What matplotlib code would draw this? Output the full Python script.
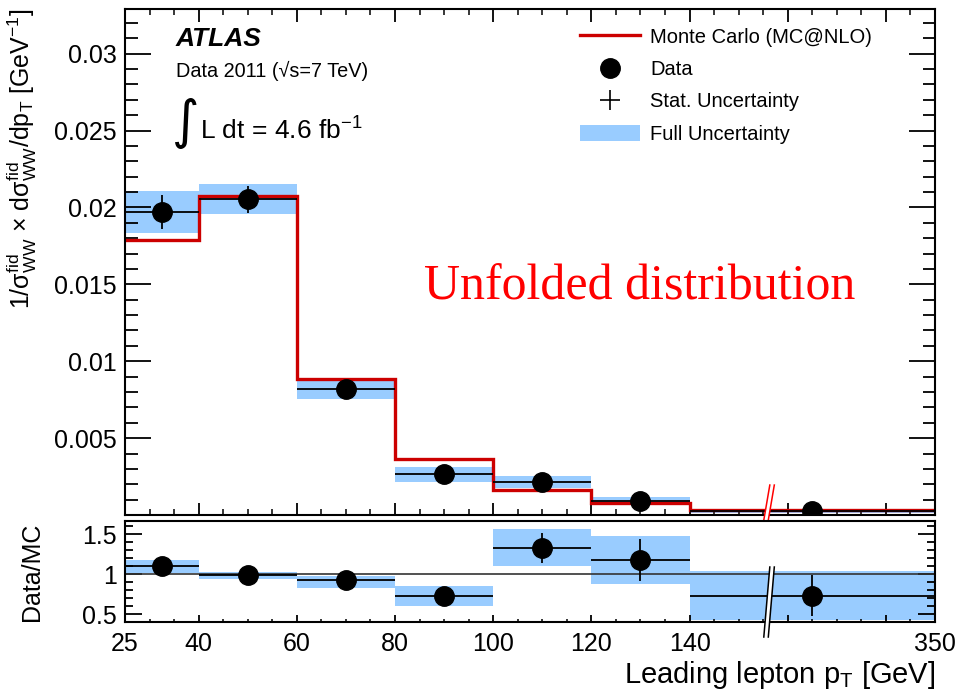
import numpy as np
import matplotlib
matplotlib.use('Agg')
import matplotlib.pyplot as plt
from matplotlib.lines import Line2D
from matplotlib.patches import Patch, Polygon

plt.rcParams['font.family'] = ['Liberation Sans', 'DejaVu Sans']
plt.rcParams['mathtext.fontset'] = 'custom'
plt.rcParams['mathtext.rm'] = 'Liberation Sans'
plt.rcParams['mathtext.it'] = 'Liberation Sans:italic'
plt.rcParams['mathtext.bf'] = 'Liberation Sans:bold'

# leading lepton pT bins [GeV]
edges = np.array([25, 40, 60, 80, 100, 120, 140, 350])
centers = 0.5 * (edges[:-1] + edges[1:])

# normalised unfolded cross section [1/GeV]
data = [0.01972, 0.02052, 0.00818, 0.00266, 0.00214, 0.00093, 0.00026]
data_stat = [0.0011, 0.00085, 0.0003, 0.00015, 0.00012, 0.00008, 0.00004]
full_lo = [0.01835, 0.01955, 0.00753, 0.00218, 0.00173, 0.00073, 0.00015]
full_hi = [0.02106, 0.02155, 0.00874, 0.00312, 0.00253, 0.00117, 0.00036]
mc = [0.01787, 0.02072, 0.00885, 0.00366, 0.00162, 0.00078, 0.00034]

# data / MC
ratio = [1.10, 0.985, 0.925, 0.73, 1.33, 1.18, 0.73]
ratio_stat = [0.05, 0.04, 0.05, 0.09, 0.19, 0.26, 0.26]
ratio_lo = [1.01, 0.94, 0.83, 0.605, 1.10, 0.87, 0.43]
ratio_hi = [1.18, 1.03, 0.98, 0.855, 1.56, 1.475, 1.04]

band_color = '#99CCFF'
mc_color = '#CC0000'


# everything above 140 GeV is squeezed into a 50 GeV wide slot
def fwd(x):
    x = np.asarray(x, dtype=float)
    return np.where(x <= 140, x, 140 + (x - 140) * 50.0 / 210.0)


def inv(d):
    d = np.asarray(d, dtype=float)
    return np.where(d <= 140, d, 140 + (d - 140) * 210.0 / 50.0)


fig = plt.figure(figsize=(9.6, 6.96), dpi=100)
ax = fig.add_axes([0.1302, 0.260, 0.8438, 0.727])
rax = fig.add_axes([0.1302, 0.1063, 0.8438, 0.1451])

xerr = [centers - edges[:-1], edges[1:] - centers]

# main panel
ax.stairs(full_hi, edges, baseline=full_lo, fill=True, color=band_color, lw=0, zorder=1)
ax.stairs(mc, edges, baseline=None, color=mc_color, lw=2.4, zorder=2)
ax.errorbar(centers, data, xerr=xerr, yerr=data_stat, fmt='o', color='k',
            ms=14, elinewidth=1.3, capsize=0, zorder=3)

# ratio panel
rax.stairs(ratio_hi, edges, baseline=ratio_lo, fill=True, color=band_color, lw=0, zorder=1)
rax.axhline(1, color='#333333', lw=1.2, zorder=2)
rax.errorbar(centers, ratio, xerr=xerr, yerr=ratio_stat, fmt='o', color='k',
             ms=14, elinewidth=1.3, capsize=0, zorder=3)

major_disp = [25, 40, 60, 80, 100, 120, 140, 160, 180, 190]
xlabels = ['25', '40', '60', '80', '100', '120', '140', '', '', '350']
minor_disp = np.arange(25, 191, 5)

for a in (ax, rax):
    a.set_xscale('function', functions=(fwd, inv))
    a.set_xlim(25, 350)
    a.set_xticks(inv(major_disp))
    a.set_xticks(inv(minor_disp), minor=True)
    for s in a.spines.values():
        s.set_linewidth(1.5)

ax.set_xticklabels([''] * len(major_disp))
rax.set_xticklabels(xlabels)

ax.set_ylim(0, 0.0329)
ax.set_yticks([0.005, 0.01, 0.015, 0.02, 0.025, 0.03])
ax.set_yticklabels(['0.005', '0.01', '0.015', '0.02', '0.025', '0.03'])
ax.set_yticks(np.arange(0.001, 0.0329, 0.001), minor=True)
ax.tick_params(axis='both', which='both', direction='in', top=True, right=True,
               labelbottom=False, labelsize=18)
ax.tick_params(axis='y', which='major', length=19, width=1.3, pad=6)
ax.tick_params(axis='y', which='minor', length=9, width=1.3)
ax.tick_params(axis='x', which='major', length=9, width=1.3)
ax.tick_params(axis='x', which='minor', length=4.5, width=1.1)

rax.set_ylim(0.4, 1.665)
rax.set_yticks([0.5, 1.0, 1.5])
rax.set_yticklabels(['0.5', '1', '1.5'])
rax.set_yticks(np.arange(0.5, 1.66, 0.1), minor=True)
rax.tick_params(axis='both', which='both', direction='in', top=False, right=True,
                labelsize=18)
rax.tick_params(axis='y', which='major', length=12, width=1.3, pad=6)
rax.tick_params(axis='y', which='minor', length=6, width=1.3)
rax.tick_params(axis='x', which='major', length=5, width=1.3, pad=7)
rax.tick_params(axis='x', which='minor', length=2.5, width=1.1)

ax.set_ylabel(r'1/σ$_{\mathrm{WW}}^{\mathrm{fid}}$ × dσ$_{\mathrm{WW}}^{\mathrm{fid}}$/dp$_{\mathrm{T}}$ [GeV$^{\mathrm{-1}}$]',
              fontsize=18, loc='top', va='center')
ax.yaxis.set_label_coords(-0.127, 1.0)
rax.set_ylabel('Data/MC', fontsize=18, va='center')
rax.yaxis.set_label_coords(-0.115, 0.5)
rax.set_xlabel(r'Leading lepton p$_{\mathrm{T}}$ [GeV]', fontsize=21, loc='right')
rax.xaxis.set_label_coords(1.0, -0.37)

# labels
ax.text(0.063, 0.927, 'ATLAS', transform=ax.transAxes, fontsize=19,
        fontweight='bold', fontstyle='italic')
ax.text(0.063, 0.866, 'Data 2011 (√s=7 TeV)', transform=ax.transAxes, fontsize=14.3)
ax.text(0.058, 0.775, '∫', transform=ax.transAxes, fontsize=38,
        family='DejaVu Sans', va='center')
ax.text(0.0926, 0.741, r'L dt = 4.6 fb$^{\mathrm{-1}}$', transform=ax.transAxes,
        fontsize=19)
ax.text(0.635, 0.425, 'Unfolded distribution', transform=ax.transAxes,
        fontsize=36, family='Liberation Serif', color='red', ha='center')

handles = [
    Line2D([], [], color=mc_color, lw=2.4),
    Line2D([], [], marker='o', color='k', ms=14, ls='none'),
    Line2D([], [], marker='+', color='k', ms=14, mew=1.2, ls='none'),
    Patch(facecolor=band_color, edgecolor='none'),
]
labels = ['Monte Carlo (MC@NLO)', 'Data', 'Stat. Uncertainty', 'Full Uncertainty']
ax.legend(handles, labels, loc='upper left', bbox_to_anchor=(0.5617, 0.963),
          frameon=False, fontsize=14.5, handlelength=3.0, handleheight=0.85,
          handletextpad=0.5, labelspacing=0.66, borderpad=0, borderaxespad=0)


# axis break: two slanted parallel strokes with a white gap between them
def draw_break(a, xval, y0, y1, color):
    w_px = a.get_position().width * fig.get_figwidth() * fig.dpi
    h_px = a.get_position().height * fig.get_figheight() * fig.dpi
    xf = a.transAxes.inverted().transform(a.transData.transform((xval, 1.0)))[0]
    dx = 6.0 / w_px
    gap = 4.5 / w_px
    yb, yt = y0 / h_px, y1 / h_px
    xl0, xl1 = xf - 0.5 * gap - 0.5 * dx, xf - 0.5 * gap + 0.5 * dx
    xr0, xr1 = xl0 + gap, xl1 + gap
    a.add_patch(Polygon([(xl0, yb), (xl1, yt), (xr1, yt), (xr0, yb)], closed=True,
                        transform=a.transAxes, facecolor='white', edgecolor='none',
                        clip_on=False, zorder=5))
    for x0, x1 in ((xl0, xl1), (xr0, xr1)):
        a.add_line(Line2D([x0, x1], [yb, yt], transform=a.transAxes, color=color,
                          lw=1.1, clip_on=False, zorder=6))


draw_break(ax, 208, -5, 30, 'red')
draw_break(rax, 208, -15, 55, 'black')

fig.savefig('out.png', dpi=100)
